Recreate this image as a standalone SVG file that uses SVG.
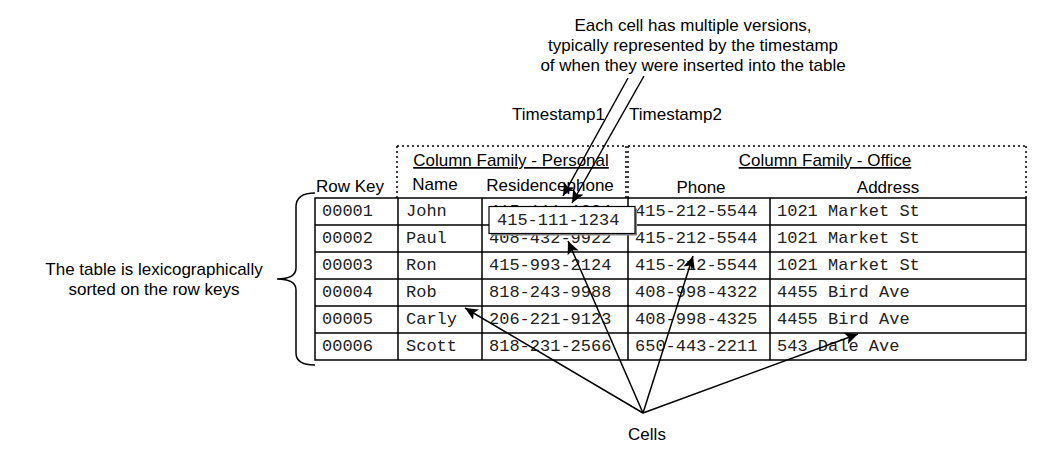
<svg xmlns="http://www.w3.org/2000/svg" width="1050" height="457" viewBox="0 0 1050 457">
<style>
.s{font-family:"Liberation Sans",Arial,sans-serif;font-size:17px;fill:#000}
.m{font-family:"Liberation Mono","Courier New",monospace;font-size:17px;fill:#222}
.c{text-anchor:middle}
.g{stroke:#000;stroke-width:1.5;fill:none}
.d{stroke:#000;stroke-width:1.5;fill:none;stroke-dasharray:2 3}
.a{stroke:#000;stroke-width:1.5;fill:none;marker-end:url(#ah)}
</style>
<defs>
<marker id="ah" markerUnits="userSpaceOnUse" markerWidth="14" markerHeight="12" refX="13" refY="6" orient="auto">
<path d="M0,0 L13,6 L0,12 L3,6 z" fill="#000"/>
</marker>
</defs>
<rect width="1050" height="457" fill="#fff"/>

<g id="note-versions">
<text class="s c" x="693" y="31">Each cell has multiple versions,</text>
<text class="s c" x="693" y="51">typically represented by the timestamp</text>
<text class="s c" x="693" y="71">of when they were inserted into the table</text>
</g>
<g id="label-ts1"><text class="s" x="512" y="120">Timestamp1</text></g>
<g id="label-ts2"><text class="s" x="629" y="120">Timestamp2</text></g>

<g id="family-personal">
<path class="d" d="M397,146 L626,146 M397,146 L397,198 M626,146 L626,198"/>
<text class="s c" x="511" y="166" text-decoration="underline">Column Family - Personal</text>
<text class="s c" x="435" y="190">Name</text>
<text class="s c" x="550" y="191">Residencephone</text>
</g>
<g id="family-office">
<path class="d" d="M628,146 L1026,146 M628,146 L628,198 M1026,146 L1026,198"/>
<text class="s c" x="825" y="166" text-decoration="underline">Column Family - Office</text>
<text class="s c" x="701" y="193">Phone</text>
<text class="s c" x="888" y="193">Address</text>
</g>
<g id="label-rowkey"><text class="s" x="316" y="192">Row Key</text></g>

<g id="table">
<rect class="g" x="315" y="198" width="711" height="162"/>
<path class="g" d="M315,225 H1026 M315,252 H1026 M315,279 H1026 M315,306 H1026 M315,333 H1026 M398,198 V360 M482,198 V360 M628,198 V360 M770,198 V360"/>
<text class="m" x="322" y="216">00001</text><text class="m" x="406" y="216">John</text><text class="m" x="489" y="216">415-111-1234</text><text class="m" x="635" y="216">415-212-5544</text><text class="m" x="777" y="216">1021 Market St</text>
<text class="m" x="322" y="243">00002</text><text class="m" x="406" y="243">Paul</text><text class="m" x="489" y="243">408-432-9922</text><text class="m" x="635" y="243">415-212-5544</text><text class="m" x="777" y="243">1021 Market St</text>
<text class="m" x="322" y="270">00003</text><text class="m" x="406" y="270">Ron</text><text class="m" x="489" y="270">415-993-2124</text><text class="m" x="635" y="270">415-212-5544</text><text class="m" x="777" y="270">1021 Market St</text>
<text class="m" x="322" y="297">00004</text><text class="m" x="406" y="297">Rob</text><text class="m" x="489" y="297">818-243-9988</text><text class="m" x="635" y="297">408-998-4322</text><text class="m" x="777" y="297">4455 Bird Ave</text>
<text class="m" x="322" y="324">00005</text><text class="m" x="406" y="324">Carly</text><text class="m" x="489" y="324">206-221-9123</text><text class="m" x="635" y="324">408-998-4325</text><text class="m" x="777" y="324">4455 Bird Ave</text>
<text class="m" x="322" y="351">00006</text><text class="m" x="406" y="351">Scott</text><text class="m" x="489" y="351">818-231-2566</text><text class="m" x="635" y="351">650-443-2211</text><text class="m" x="777" y="351">543 Dale Ave</text>
</g>

<g id="popup-version">
<rect x="491" y="208.5" width="146" height="27" fill="#888"/>
<rect x="489" y="206.5" width="146" height="27" fill="#fff" stroke="#000" stroke-width="1.2"/>
<text class="m" x="497" y="225">415-111-1234</text>
</g>

<g id="brace">
<path class="g" d="M315,193 C303,193 296,197 296,207 L296,268 C296,275 290,279 277,279 C290,279 296,283 296,290 L296,353 C296,361 303,365 315,365"/>
</g>
<g id="note-sorted">
<text class="s c" x="154" y="275">The table is lexicographically</text>
<text class="s c" x="154" y="295">sorted on the row keys</text>
</g>
<g id="label-cells"><text class="s c" x="647" y="440">Cells</text></g>

<g id="connectors">
<line class="a" x1="628" y1="78" x2="563" y2="196"/>
<line class="a" x1="644" y1="76" x2="572" y2="203"/>
<line class="a" x1="643" y1="413" x2="465" y2="308"/>
<line class="a" x1="643" y1="413" x2="568" y2="241"/>
<line class="a" x1="643" y1="413" x2="693" y2="256"/>
<line class="a" x1="643" y1="413" x2="858" y2="334"/>
</g>
</svg>
